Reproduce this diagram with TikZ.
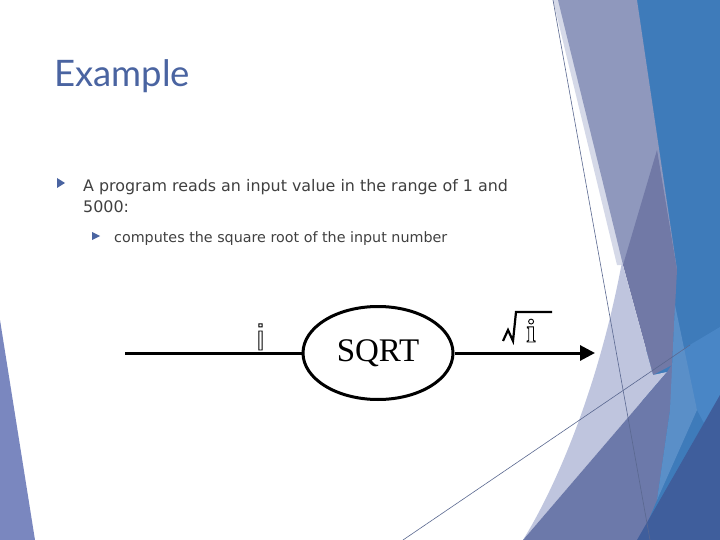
\documentclass[tikz,border=0pt]{standalone}
\usepackage{fontspec}
\setmainfont{DejaVu Sans}
\newfontfamily\titlefont{Lato}
\newfontfamily\sqrtfont{Liberation Serif}
\newfontfamily\ifontA{Liberation Sans}
\usetikzlibrary{arrows.meta,shapes.geometric}
\definecolor{titleblue}{HTML}{4A64A1}
\definecolor{bodygray}{HTML}{404040}
\definecolor{bgblue}{HTML}{3E7BBA}
\definecolor{lav}{HTML}{8F98BD}
\definecolor{palelav}{HTML}{D5D9E8}
\definecolor{purp}{HTML}{7179A6}
\definecolor{lightlav}{HTML}{BFC5DE}
\definecolor{midpurp}{HTML}{6C79AA}
\definecolor{lightblue}{HTML}{5A8FC8}
\definecolor{midblue}{HTML}{4986C6}
\definecolor{navy}{HTML}{3F5E9C}
\definecolor{leftlav}{HTML}{7A87BF}
\definecolor{thinline}{HTML}{5A6890}
\newcommand{\hollow}[1]{\special{pdf:literal 1 Tr 0.9 w}#1\special{pdf:literal 0 Tr}}
\tikzset{
  txt/.style={inner sep=0pt, anchor=base west, text=bodygray},
  bullet/.style={fill=titleblue, draw=none},
  flow/.style={line width=3pt, draw=black},
  thin/.style={draw=thinline, line width=0.6pt},
}
\begin{document}
\begin{tikzpicture}[x=1pt,y=-1pt]
\useasboundingbox (0,0) rectangle (720,540);
\fill[white] (0,0) rectangle (720,540);
% background decoration
\fill[leftlav] (0,320) -- (0,540) -- (35,540) -- cycle;
\fill[bgblue] (637,0) -- (720,0) -- (720,540) -- (630,540) -- (650,300) -- cycle;
\fill[palelav] (553,0) -- (561,0) -- (625,265) -- (617,265) -- cycle;
\fill[lav] (558,0) -- (637,0) -- (677,270) -- (623,265) .. controls (600,170) and (575,70) .. (558,0) -- cycle;
\fill[purp] (657,150) -- (677,270) -- (672,365) -- (653,375) -- (623,265) -- cycle;
\fill[lightlav] (622,262) -- (653,375) -- (667,372) -- (523,540) .. controls (560,480) and (600,380) .. (622,262) -- cycle;
\fill[midpurp] (523,540) -- (667,372) -- (675,360) -- (670,410) -- (657,500) -- (640,540) -- cycle;
\fill[midblue] (678,352) -- (720,327) -- (720,395) -- (705,425) -- (697,410) -- cycle;
\fill[lightblue] (675,305) -- (697,410) -- (657,500) -- (670,410) -- cycle;
\fill[navy] (720,395) -- (720,540) -- (637,540) -- cycle;
\draw[thin] (553,0) -- (650,540);
\draw[thin] (403,540) -- (690,345);
% title
\node[inner sep=0pt, anchor=base west, text=titleblue, font=\titlefont\fontsize{36.5}{40}\selectfont] (title) at (54,87) {Example};
% bullets
\fill[bullet] (57,178) -- (65,183) -- (57,188) -- cycle;
\node[txt, font=\fontsize{15.9}{18}\selectfont] (l1) at (83,192) {A program reads an input value in the range of 1 and};
\node[txt, font=\fontsize{15.9}{18}\selectfont] (l2) at (83,213) {5000:};
\fill[bullet] (92,232) -- (100,236) -- (92,240) -- cycle;
\node[txt, font=\fontsize{14.3}{16}\selectfont] (l3) at (114,242) {computes the square root of the input number};
% diagram
\coordinate (start) at (125,353);
\coordinate (end) at (595,353);
\node[flow, ellipse, minimum width=150pt, minimum height=93pt, inner sep=0pt, font=\sqrtfont\fontsize{33}{36}\selectfont] (sqrt) at (378,353) {SQRT};
\draw[flow] (start) -- (sqrt.west);
\draw[flow, -{Triangle[length=15pt,width=15pt]}] (sqrt.east) -- (end);
\draw[line width=2.2pt, line join=miter] (503,341) -- (508,330) -- (513,341) -- (516,312) -- (552,312);
\node[inner sep=0pt, anchor=base, font=\ifontA\fontsize{36}{40}\selectfont] (ivar) at (260.5,350) {\hollow{i}};
\node[inner sep=0pt, anchor=base, font=\sqrtfont\bfseries\fontsize{33}{36}\selectfont] (iroot) at (531,342) {\hollow{i}};
\end{tikzpicture}
\end{document}
